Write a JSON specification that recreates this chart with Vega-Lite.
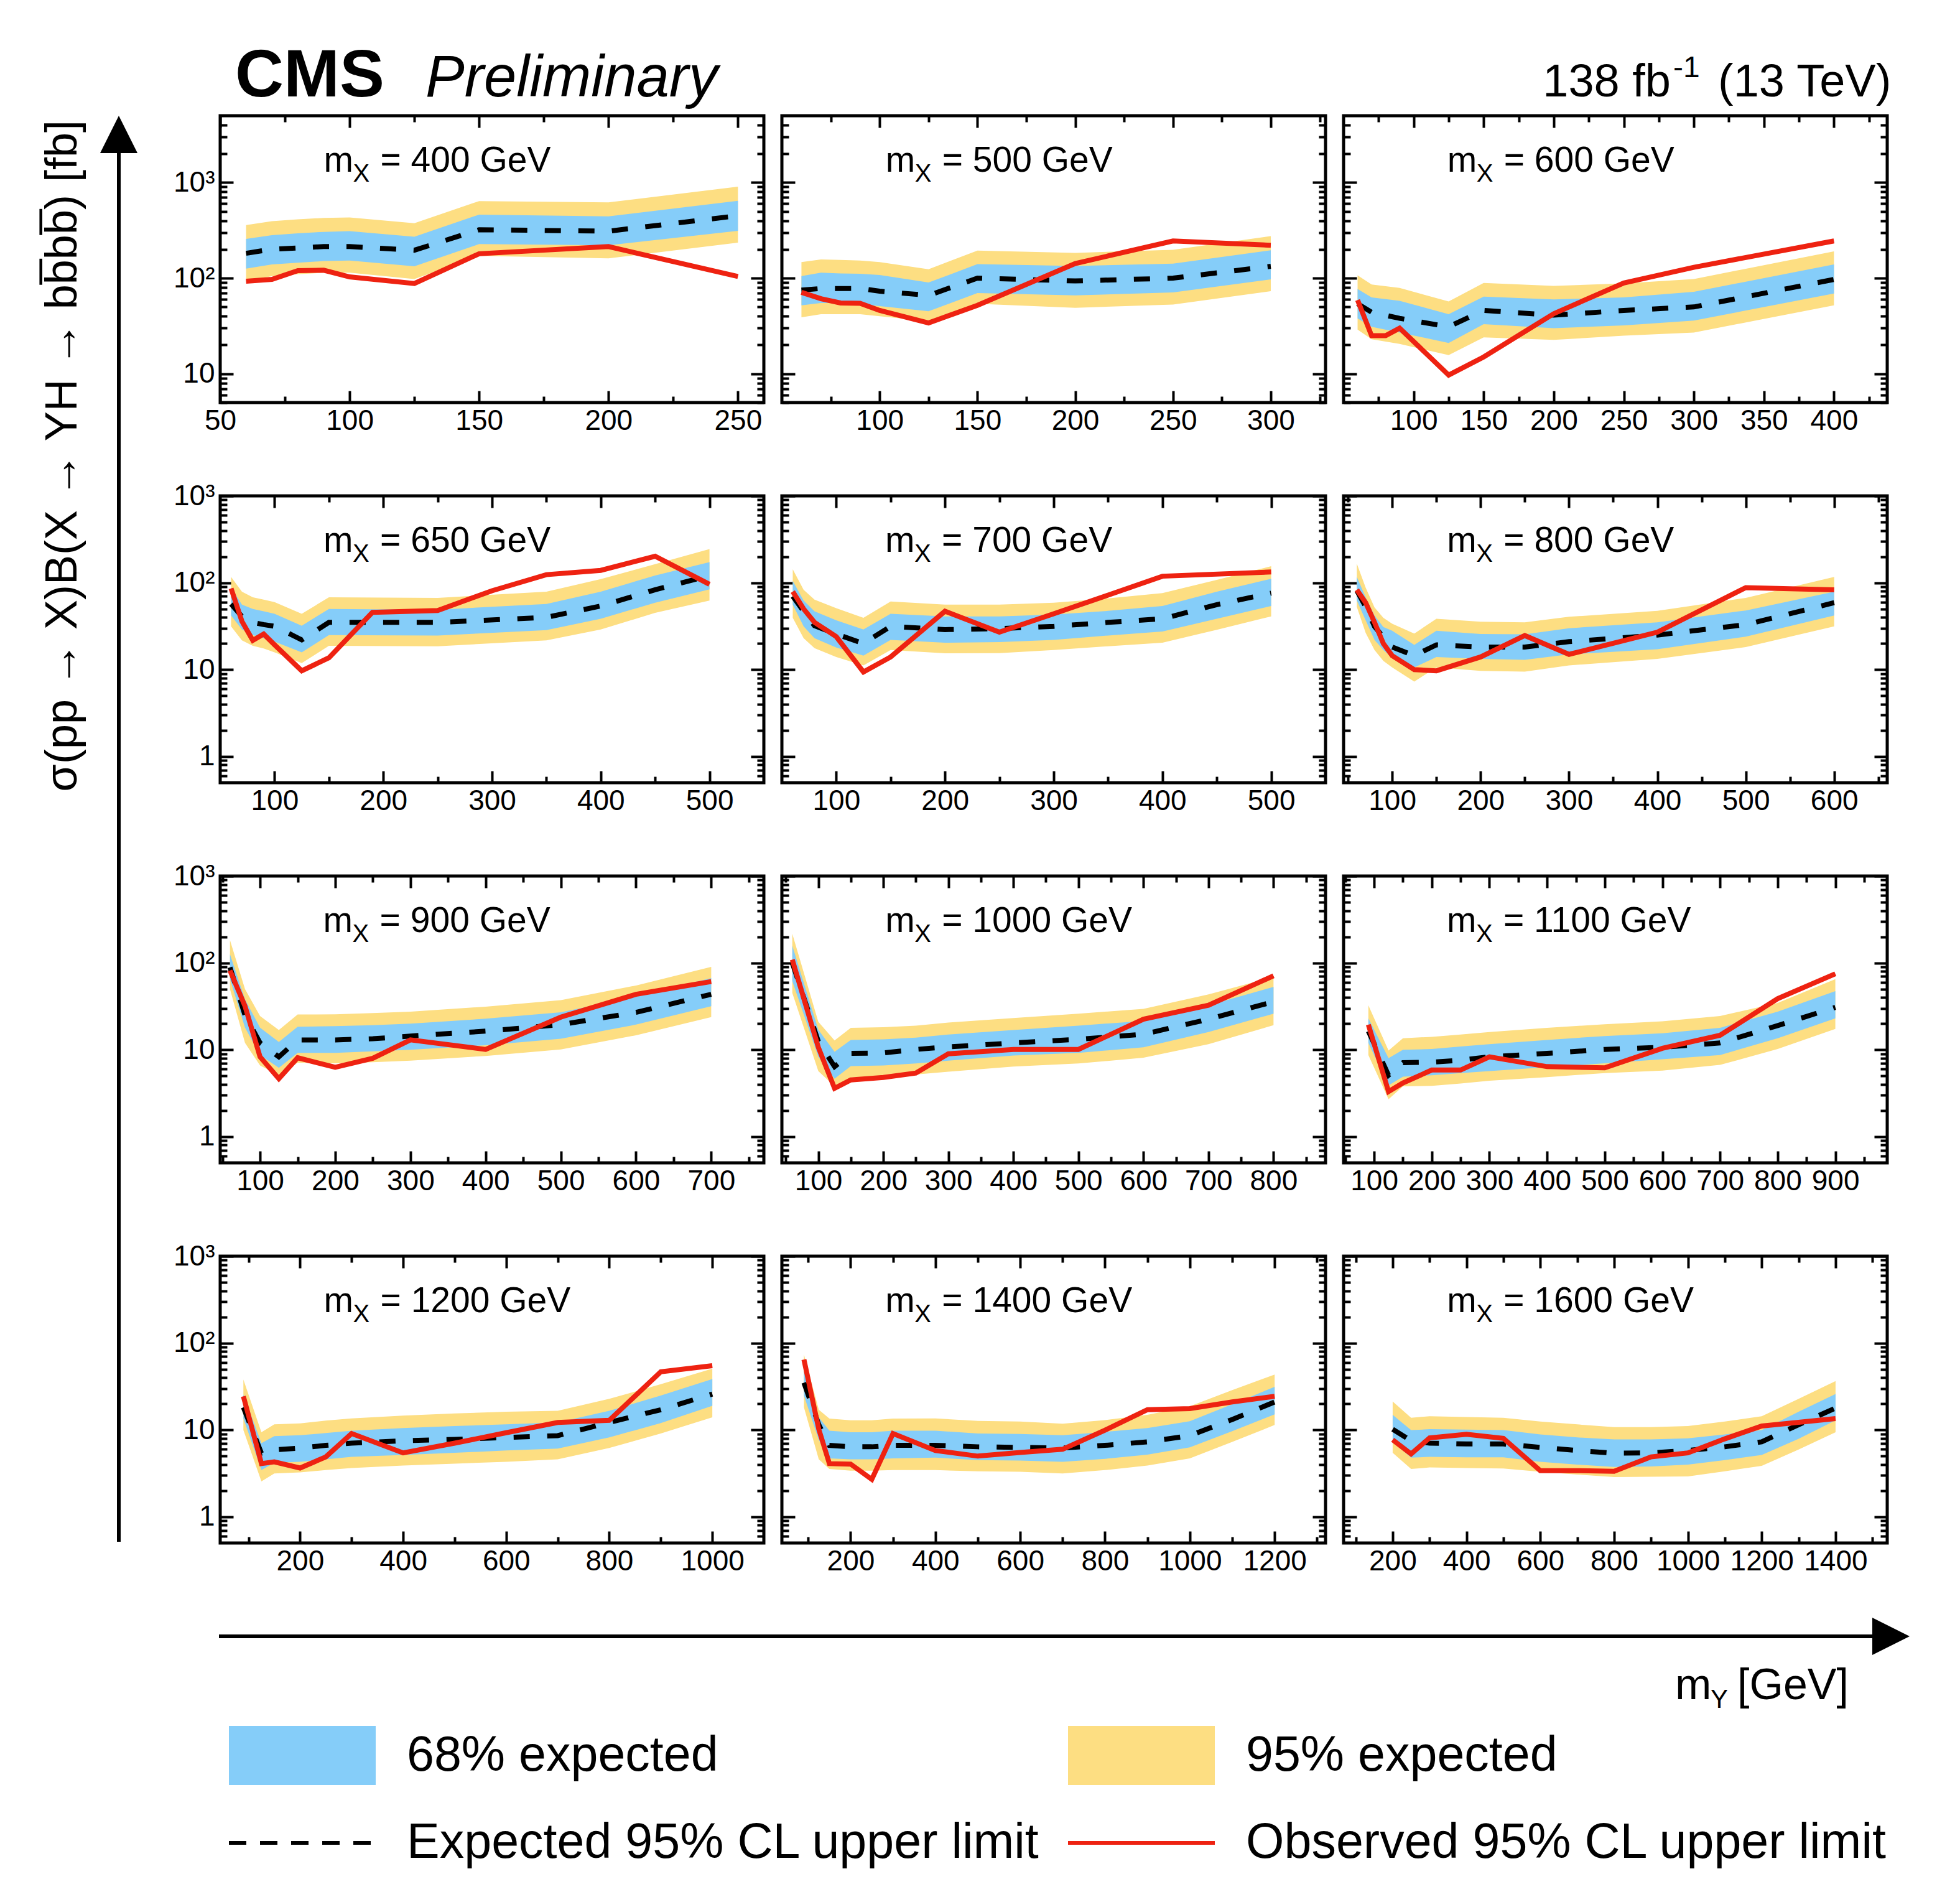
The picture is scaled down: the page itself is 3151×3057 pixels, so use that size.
{
  "$schema": "https://vega.github.io/schema/vega-lite/v6.json",
  "padding": 0,
  "background": "white",
  "config": {
    "view": {"stroke": "black", "strokeWidth": 5},
    "axis": {"domain": false, "grid": false, "tickColor": "black", "tickWidth": 4, "labelFont": "Liberation Sans", "labelFontSize": 46, "labelColor": "black", "labelFlush": false, "labelOverlap": false, "zindex": 1},
    "text": {"font": "Liberation Sans", "color": "black"}
  },
  "datasets": {
    "lim": [
      {"mx":400,"my":60,"exp":182,"m1":126,"p1":257,"m2":92,"p2":359,"obs":93},
      {"mx":400,"my":70,"exp":201,"m1":139,"p1":282,"m2":105,"p2":395,"obs":97},
      {"mx":400,"my":80,"exp":207,"m1":145,"p1":295,"m2":110,"p2":412,"obs":120},
      {"mx":400,"my":90,"exp":214,"m1":151,"p1":305,"m2":114,"p2":427,"obs":121},
      {"mx":400,"my":100,"exp":214,"m1":153,"p1":310,"m2":114,"p2":432,"obs":103},
      {"mx":400,"my":125,"exp":196,"m1":133,"p1":271,"m2":98,"p2":375,"obs":88},
      {"mx":400,"my":150,"exp":321,"m1":227,"p1":462,"m2":171,"p2":640,"obs":180},
      {"mx":400,"my":200,"exp":310,"m1":221,"p1":443,"m2":161,"p2":620,"obs":214},
      {"mx":400,"my":250,"exp":450,"m1":313,"p1":644,"m2":235,"p2":906,"obs":104},

      {"mx":500,"my":60,"exp":75,"m1":52,"p1":105,"m2":39,"p2":147,"obs":71},
      {"mx":500,"my":70,"exp":78,"m1":55,"p1":114,"m2":42,"p2":157,"obs":61},
      {"mx":500,"my":80,"exp":78,"m1":55,"p1":112,"m2":42,"p2":155,"obs":55},
      {"mx":500,"my":90,"exp":78,"m1":54,"p1":111,"m2":42,"p2":153,"obs":54.5},
      {"mx":500,"my":100,"exp":73,"m1":51,"p1":108,"m2":40,"p2":147,"obs":46},
      {"mx":500,"my":125,"exp":66,"m1":45,"p1":90,"m2":35.5,"p2":124,"obs":34},
      {"mx":500,"my":150,"exp":100,"m1":70,"p1":140,"m2":54,"p2":194,"obs":52},
      {"mx":500,"my":200,"exp":93.5,"m1":66,"p1":134,"m2":49,"p2":184,"obs":142},
      {"mx":500,"my":250,"exp":100,"m1":71,"p1":142,"m2":53,"p2":198,"obs":245},
      {"mx":500,"my":300,"exp":133,"m1":97,"p1":196,"m2":73,"p2":275,"obs":221},

      {"mx":600,"my":60,"exp":54,"m1":38,"p1":77,"m2":29,"p2":107,"obs":59},
      {"mx":600,"my":70,"exp":44,"m1":31,"p1":63,"m2":23,"p2":86,"obs":25},
      {"mx":600,"my":80,"obs":25},
      {"mx":600,"my":90,"exp":38,"m1":27,"p1":58,"m2":20.5,"p2":79,"obs":30},
      {"mx":600,"my":125,"exp":31,"m1":21,"p1":42,"m2":15.7,"p2":57,"obs":9.7},
      {"mx":600,"my":150,"exp":46,"m1":33,"p1":64,"m2":24,"p2":89,"obs":15},
      {"mx":600,"my":200,"exp":41,"m1":30,"p1":60,"m2":22.6,"p2":83,"obs":42.5},
      {"mx":600,"my":250,"exp":46,"m1":32,"p1":63,"m2":25,"p2":88,"obs":89},
      {"mx":600,"my":300,"exp":50,"m1":36,"p1":72,"m2":27,"p2":98,"obs":130},
      {"mx":600,"my":400,"exp":97,"m1":69,"p1":139,"m2":52,"p2":191,"obs":245},

      {"mx":650,"my":60,"exp":57,"m1":42,"p1":88,"m2":31.5,"p2":117,"obs":86},
      {"mx":650,"my":70,"exp":41,"m1":29,"p1":56,"m2":21.7,"p2":79,"obs":36},
      {"mx":650,"my":80,"exp":35,"m1":25,"p1":50,"m2":18.8,"p2":68,"obs":21.7},
      {"mx":650,"my":90,"exp":33,"m1":23,"p1":47,"m2":17.5,"p2":64,"obs":25.7},
      {"mx":650,"my":100,"exp":31.6,"m1":21,"p1":44,"m2":15.8,"p2":60,"obs":19.3},
      {"mx":650,"my":125,"exp":22,"m1":15.8,"p1":32,"m2":11.9,"p2":44,"obs":9.7},
      {"mx":650,"my":150,"exp":35,"m1":25,"p1":50,"m2":18.8,"p2":68,"obs":13.7},
      {"mx":650,"my":190,"obs":45.7},
      {"mx":650,"my":250,"exp":35,"m1":24.7,"p1":49,"m2":18.6,"p2":67,"obs":48},
      {"mx":650,"my":300,"obs":81},
      {"mx":650,"my":350,"exp":40,"m1":28.5,"p1":57,"m2":21.7,"p2":79,"obs":124},
      {"mx":650,"my":400,"exp":54,"m1":38.5,"p1":79,"m2":29,"p2":110,"obs":139},
      {"mx":650,"my":450,"exp":83,"m1":59,"p1":121,"m2":45,"p2":164,"obs":202},
      {"mx":650,"my":500,"exp":121,"m1":84,"p1":173,"m2":62.5,"p2":244,"obs":96},

      {"mx":700,"my":60,"exp":70,"m1":56,"p1":105,"m2":39.5,"p2":143,"obs":79},
      {"mx":700,"my":70,"exp":47,"m1":31.5,"p1":62.5,"m2":23,"p2":83,"obs":50},
      {"mx":700,"my":80,"exp":32,"m1":23,"p1":47,"m2":17.7,"p2":64,"obs":35},
      {"mx":700,"my":100,"exp":25.7,"m1":18,"p1":37,"m2":14,"p2":51,"obs":24},
      {"mx":700,"my":125,"exp":20,"m1":14.5,"p1":29,"m2":11.2,"p2":39.5,"obs":9.4},
      {"mx":700,"my":150,"exp":31.5,"m1":22,"p1":44,"m2":16.8,"p2":61,"obs":14},
      {"mx":700,"my":200,"exp":28.9,"m1":20.4,"p1":41,"m2":15.4,"p2":56,"obs":47},
      {"mx":700,"my":250,"exp":29.7,"m1":20.8,"p1":41,"m2":15.5,"p2":56,"obs":27},
      {"mx":700,"my":300,"exp":31.5,"m1":22,"p1":43,"m2":16.8,"p2":59,"obs":44},
      {"mx":700,"my":350,"exp":35,"m1":24.7,"p1":47.5,"m2":18.6,"p2":66,"obs":72},
      {"mx":700,"my":400,"exp":38.5,"m1":27.5,"p1":54,"m2":20.4,"p2":76,"obs":119},
      {"mx":700,"my":450,"exp":56,"m1":38.5,"p1":79,"m2":28.8,"p2":108},
      {"mx":700,"my":500,"exp":76,"m1":54,"p1":111,"m2":41,"p2":155,"obs":133},

      {"mx":800,"my":60,"exp":81,"m1":62.5,"p1":117,"m2":52.6,"p2":166,"obs":83},
      {"mx":800,"my":70,"exp":53,"m1":37,"p1":68,"m2":26.5,"p2":88,"obs":59},
      {"mx":800,"my":80,"exp":31.4,"m1":22,"p1":42,"m2":16.8,"p2":52,"obs":35},
      {"mx":800,"my":90,"exp":23.6,"m1":16.8,"p1":31,"m2":12.6,"p2":39.5,"obs":20},
      {"mx":800,"my":100,"exp":18.2,"m1":13.7,"p1":28,"m2":10.6,"p2":33.7,"obs":14.5},
      {"mx":800,"my":125,"exp":14.5,"m1":10.6,"p1":19.3,"m2":7.3,"p2":26,"obs":10},
      {"mx":800,"my":150,"exp":19.3,"m1":14,"p1":28,"m2":10.6,"p2":38.5,"obs":9.7},
      {"mx":800,"my":200,"exp":18.2,"m1":13.3,"p1":25.7,"m2":9.7,"p2":35.7,"obs":14},
      {"mx":800,"my":250,"exp":18.2,"m1":13,"p1":25.5,"m2":9.5,"p2":35,"obs":24.7},
      {"mx":800,"my":300,"exp":21,"m1":15,"p1":30,"m2":11.2,"p2":40.6,"obs":15},
      {"mx":800,"my":400,"exp":25,"m1":17.2,"p1":35,"m2":13.3,"p2":47.5,"obs":27},
      {"mx":800,"my":500,"exp":33,"m1":24,"p1":48,"m2":18.2,"p2":67,"obs":88},
      {"mx":800,"my":600,"exp":59,"m1":42,"p1":79,"m2":31.5,"p2":117,"obs":83},

      {"mx":900,"my":60,"exp":89,"m1":65,"p1":126,"m2":50,"p2":183,"obs":82},
      {"mx":900,"my":80,"exp":25,"m1":18,"p1":38,"m2":12,"p2":50,"obs":31.8},
      {"mx":900,"my":100,"exp":12,"m1":8.7,"p1":18,"m2":6.6,"p2":24.5,"obs":8.3},
      {"mx":900,"my":125,"exp":8.3,"m1":6.2,"p1":12.3,"m2":5.1,"p2":16.9,"obs":4.65},
      {"mx":900,"my":150,"exp":13,"m1":9.2,"p1":18.4,"m2":7.1,"p2":25.5,"obs":8.1},
      {"mx":900,"my":200,"exp":13,"m1":9.2,"p1":18.7,"m2":7.0,"p2":25.6,"obs":6.3},
      {"mx":900,"my":250,"exp":13.4,"m1":9.6,"p1":19.2,"m2":7.2,"p2":26.5,"obs":8.0},
      {"mx":900,"my":300,"exp":14.4,"m1":10,"p1":20,"m2":7.5,"p2":27.5,"obs":13},
      {"mx":900,"my":400,"exp":16.4,"m1":11.3,"p1":22.8,"m2":8.5,"p2":31.4,"obs":10.1},
      {"mx":900,"my":500,"exp":19.5,"m1":13.4,"p1":27,"m2":10.1,"p2":37.3,"obs":23.8},
      {"mx":900,"my":600,"exp":27,"m1":19.5,"p1":41,"m2":14.7,"p2":55,"obs":43.5},
      {"mx":900,"my":700,"exp":43.5,"m1":31.8,"p1":67,"m2":23.8,"p2":90,"obs":61},

      {"mx":1000,"my":60,"exp":100,"m1":62,"p1":158,"m2":45,"p2":217,"obs":109},
      {"mx":1000,"my":100,"exp":12.5,"m1":8.3,"p1":17,"m2":5.7,"p2":21,"obs":10.7},
      {"mx":1000,"my":125,"exp":6.4,"m1":4.65,"p1":9.5,"m2":3.8,"p2":12.8,"obs":3.6},
      {"mx":1000,"my":150,"exp":9.1,"m1":6.5,"p1":13,"m2":4.8,"p2":17.9,"obs":4.5},
      {"mx":1000,"my":200,"exp":9.2,"m1":6.6,"p1":13.2,"m2":4.9,"p2":18.2,"obs":4.8},
      {"mx":1000,"my":250,"exp":10.1,"m1":6.95,"p1":13.8,"m2":5.2,"p2":19,"obs":5.4},
      {"mx":1000,"my":300,"exp":10.8,"m1":7.5,"p1":15,"m2":5.6,"p2":20.6,"obs":9.0},
      {"mx":1000,"my":400,"exp":12,"m1":8.6,"p1":16.9,"m2":6.4,"p2":23.2,"obs":10.1},
      {"mx":1000,"my":500,"exp":13.2,"m1":9.2,"p1":19,"m2":6.95,"p2":26,"obs":10.1},
      {"mx":1000,"my":600,"exp":15.1,"m1":10.7,"p1":21.5,"m2":8.1,"p2":29.6,"obs":22.5},
      {"mx":1000,"my":700,"exp":22.5,"m1":16,"p1":32.6,"m2":11.6,"p2":43.5,"obs":32.6},
      {"mx":1000,"my":800,"exp":35.7,"m1":26,"p1":53,"m2":19.2,"p2":69,"obs":71},

      {"mx":1100,"my":90,"exp":16.4,"m1":12,"p1":23,"m2":8.7,"p2":32.6,"obs":19.5},
      {"mx":1100,"my":125,"exp":5.1,"m1":3.9,"p1":8.0,"m2":2.7,"p2":9.8,"obs":3.3},
      {"mx":1100,"my":150,"exp":7.1,"m1":4.9,"p1":10,"m2":3.8,"p2":13.6,"obs":4.15},
      {"mx":1100,"my":200,"exp":7.2,"m1":5.1,"p1":10.2,"m2":3.85,"p2":14.1,"obs":5.85},
      {"mx":1100,"my":250,"exp":7.6,"m1":5.4,"p1":10.9,"m2":4.1,"p2":15,"obs":5.85},
      {"mx":1100,"my":300,"exp":8.3,"m1":5.7,"p1":11.6,"m2":4.4,"p2":16,"obs":8.3},
      {"mx":1100,"my":400,"exp":9.1,"m1":6.3,"p1":13,"m2":4.85,"p2":17.9,"obs":6.4},
      {"mx":1100,"my":500,"exp":10.1,"m1":7.0,"p1":14.4,"m2":5.4,"p2":19.7,"obs":6.2},
      {"mx":1100,"my":600,"exp":10.7,"m1":7.8,"p1":15.5,"m2":5.75,"p2":21.3,"obs":10.4},
      {"mx":1100,"my":700,"exp":12,"m1":8.7,"p1":17.9,"m2":6.7,"p2":24.5,"obs":14.7},
      {"mx":1100,"my":800,"exp":19,"m1":13.6,"p1":27.5,"m2":10.2,"p2":34.6,"obs":38.8},
      {"mx":1100,"my":900,"exp":30.8,"m1":23,"p1":47.4,"m2":17.4,"p2":65,"obs":75},

      {"mx":1200,"my":90,"exp":18.2,"m1":13.6,"p1":25.6,"m2":9.95,"p2":38,"obs":24.4},
      {"mx":1200,"my":125,"exp":5.4,"m1":3.45,"p1":7.05,"m2":2.56,"p2":9.4,"obs":4.1},
      {"mx":1200,"my":150,"exp":5.9,"m1":4.2,"p1":8.5,"m2":3.16,"p2":11.6,"obs":4.3},
      {"mx":1200,"my":200,"exp":6.2,"m1":4.3,"p1":8.7,"m2":3.25,"p2":11.9,"obs":3.65},
      {"mx":1200,"my":250,"exp":6.65,"m1":4.6,"p1":9.2,"m2":3.45,"p2":12.8,"obs":4.9},
      {"mx":1200,"my":300,"exp":7.05,"m1":4.9,"p1":9.8,"m2":3.65,"p2":13.6,"obs":9.1},
      {"mx":1200,"my":400,"exp":7.5,"m1":5.15,"p1":10.5,"m2":3.9,"p2":14.6,"obs":5.45},
      {"mx":1200,"my":500,"exp":7.8,"m1":5.45,"p1":11.1,"m2":4.1,"p2":15.5,"obs":7.05},
      {"mx":1200,"my":600,"exp":8.2,"m1":5.8,"p1":11.6,"m2":4.3,"p2":16.2,"obs":9.3},
      {"mx":1200,"my":700,"exp":8.6,"m1":6.1,"p1":12.2,"m2":4.6,"p2":16.6,"obs":12.2},
      {"mx":1200,"my":800,"exp":12.2,"m1":8.2,"p1":16.6,"m2":6.2,"p2":22.8,"obs":12.9},
      {"mx":1200,"my":900,"exp":17.1,"m1":12,"p1":24.9,"m2":9.1,"p2":33.6,"obs":46.7},
      {"mx":1200,"my":1000,"exp":25.9,"m1":19,"p1":38.6,"m2":14,"p2":50.8,"obs":55},

      {"mx":1400,"my":90,"exp":35,"m1":24.9,"p1":48,"m2":18.2,"p2":74,"obs":64.7},
      {"mx":1400,"my":125,"exp":11.5,"m1":7.7,"p1":14,"m2":4.6,"p2":17.1,"obs":10.2},
      {"mx":1400,"my":150,"exp":6.65,"m1":4.7,"p1":9.8,"m2":3.55,"p2":13.5,"obs":4.1},
      {"mx":1400,"my":200,"exp":6.4,"m1":4.6,"p1":9.4,"m2":3.4,"p2":12.9,"obs":4.05},
      {"mx":1400,"my":250,"exp":6.4,"m1":4.6,"p1":9.4,"m2":3.4,"p2":12.9,"obs":2.7},
      {"mx":1400,"my":300,"exp":6.65,"m1":4.7,"p1":9.8,"m2":3.45,"p2":13.5,"obs":9.1},
      {"mx":1400,"my":400,"exp":6.65,"m1":4.8,"p1":9.8,"m2":3.45,"p2":13.6,"obs":5.8},
      {"mx":1400,"my":500,"exp":6.4,"m1":4.5,"p1":9.1,"m2":3.35,"p2":12.7,"obs":5.0},
      {"mx":1400,"my":600,"exp":6.3,"m1":4.45,"p1":9.0,"m2":3.3,"p2":12.5,"obs":5.5},
      {"mx":1400,"my":700,"exp":6.2,"m1":4.3,"p1":8.7,"m2":3.16,"p2":11.8,"obs":6.0},
      {"mx":1400,"my":800,"exp":6.65,"m1":4.65,"p1":9.5,"m2":3.45,"p2":13,"obs":9.96},
      {"mx":1400,"my":900,"exp":7.3,"m1":5.2,"p1":10.5,"m2":3.9,"p2":14.9,"obs":17.1},
      {"mx":1400,"my":1000,"exp":8.6,"m1":6.3,"p1":12.6,"m2":4.7,"p2":18.7,"obs":17.6},
      {"mx":1400,"my":1100,"exp":13.2,"m1":9.7,"p1":19.8,"m2":7.3,"p2":28.7,"obs":21},
      {"mx":1400,"my":1200,"exp":21,"m1":15.1,"p1":31.3,"m2":11.4,"p2":43.4,"obs":24.4},

      {"mx":1600,"my":200,"exp":10.2,"m1":7.3,"p1":14.9,"m2":5.45,"p2":21.3,"obs":7.7},
      {"mx":1600,"my":250,"exp":7.5,"m1":4.8,"p1":9.95,"m2":3.55,"p2":13.8,"obs":5.3},
      {"mx":1600,"my":300,"exp":7.05,"m1":4.9,"p1":10.2,"m2":3.7,"p2":14.4,"obs":8.1},
      {"mx":1600,"my":400,"exp":6.9,"m1":4.85,"p1":10.1,"m2":3.65,"p2":14.1,"obs":8.9},
      {"mx":1600,"my":500,"exp":6.9,"m1":4.85,"p1":9.95,"m2":3.6,"p2":13.8,"obs":8.0},
      {"mx":1600,"my":600,"exp":6.3,"m1":4.3,"p1":8.9,"m2":3.3,"p2":12.5,"obs":3.4},
      {"mx":1600,"my":700,"exp":5.8,"m1":4.0,"p1":8.2,"m2":3.07,"p2":11.6,"obs":3.4},
      {"mx":1600,"my":800,"exp":5.4,"m1":3.76,"p1":7.8,"m2":2.87,"p2":10.8,"obs":3.35},
      {"mx":1600,"my":900,"exp":5.45,"m1":3.8,"p1":7.8,"m2":2.9,"p2":10.8,"obs":4.9},
      {"mx":1600,"my":1000,"exp":5.8,"m1":4.0,"p1":8.0,"m2":2.92,"p2":11.1,"obs":5.45},
      {"mx":1600,"my":1100,"exp":6.4,"m1":4.5,"p1":8.9,"m2":3.35,"p2":12.5,"obs":7.9},
      {"mx":1600,"my":1200,"exp":7.3,"m1":5.15,"p1":9.95,"m2":3.87,"p2":14.4,"obs":11.1},
      {"mx":1600,"my":1300,"exp":11.5,"m1":7.9,"p1":16.2,"m2":5.95,"p2":22.8},
      {"mx":1600,"my":1400,"exp":17.9,"m1":12.9,"p1":25.9,"m2":9.4,"p2":36.5,"obs":13.5}
    ]
  },
  "spacing": 0,
  "bounds": "full",
  "vconcat": [
    {
      "width": 3151, "height": 181,
      "view": {"stroke": null},
      "data": {"values": [{}]},
      "layer": [
        {"mark": {"type": "text", "text": "CMS", "fontSize": 108, "fontWeight": "bold", "align": "left", "baseline": "alphabetic"},
         "encoding": {"x": {"datum": 378, "scale": {"domain": [0, 3151], "nice": false, "zero": false}, "axis": null},
                      "y": {"datum": 155, "scale": {"domain": [181, 0], "nice": false, "zero": false}, "axis": null}}},
        {"mark": {"type": "text", "text": "Preliminary", "fontSize": 94, "fontStyle": "italic", "align": "left", "baseline": "alphabetic"},
         "encoding": {"x": {"datum": 684, "axis": null}, "y": {"datum": 155, "axis": null}}},
        {"mark": {"type": "text", "text": "138 fb", "fontSize": 74, "align": "right", "baseline": "alphabetic"},
         "encoding": {"x": {"datum": 2686, "axis": null}, "y": {"datum": 155, "axis": null}}},
        {"mark": {"type": "text", "text": "-1", "fontSize": 48, "align": "left", "baseline": "alphabetic"},
         "encoding": {"x": {"datum": 2690, "axis": null}, "y": {"datum": 124, "axis": null}}},
        {"mark": {"type": "text", "text": "(13 TeV)", "fontSize": 74, "align": "left", "baseline": "alphabetic"},
         "encoding": {"x": {"datum": 2762, "axis": null}, "y": {"datum": 155, "axis": null}}}
      ]
    },
    {
      "spacing": 0,
      "bounds": "flush",
      "hconcat": [
        {
          "width": 354, "height": 2374,
          "view": {"stroke": null},
          "data": {"values": [{}]},
          "layer": [
            {"mark": {"type": "rule", "strokeWidth": 6, "color": "black"},
             "encoding": {"x": {"datum": 191, "scale": {"domain": [0, 354], "nice": false, "zero": false}, "axis": null},
                          "y": {"datum": 2476, "scale": {"domain": [2558, 184], "nice": false, "zero": false}, "axis": null},
                          "y2": {"datum": 225}}},
            {"mark": {"type": "point", "shape": "M0,-1L1,1L-1,1Z", "size": 3600, "filled": true, "color": "black", "opacity": 1, "strokeWidth": 0},
             "encoding": {"x": {"datum": 191, "axis": null}, "y": {"datum": 214, "axis": null}}},
            {"mark": {"type": "text", "text": "\u03c3(pp \u2192 X)B(X \u2192 YH \u2192 bb\u0305bb\u0305) [fb]", "angle": 270, "fontSize": 72, "align": "right", "baseline": "middle"},
             "encoding": {"x": {"datum": 101, "axis": null}, "y": {"datum": 191, "axis": null}}}
          ]
        },
        {
          "columns": 3,
          "spacing": {"row": 150, "column": 29},
          "bounds": "flush",
          "concat": [
            {"width": 874, "height": 461, "data": {"name": "lim"}, "transform": [{"filter": "datum.mx == 400"}],
             "resolve": {"axis": {"x": "independent", "y": "independent"}},
             "layer": [
               {"transform": [{"filter": "isValid(datum.p2)"}], "mark": {"type": "area", "color": "#FDDE82"},
                "encoding": {"x": {"field": "my", "type": "quantitative", "scale": {"domain": [50, 260], "nice": false, "zero": false}, "axis": {"orient": "bottom", "values": [50,100,150,200,250], "format": "d", "tickSize": -19, "labelPadding": 26, "title": null}},
                             "y": {"field": "m2", "type": "quantitative", "scale": {"type": "log", "domain": [5, 5000], "nice": false}, "axis": {"orient": "left", "values": [10,100,1000], "tickSize": -21, "labelPadding": 30, "labelExpr": "datum.value >= 1000 ? '10\u00b3' : datum.value >= 100 ? '10\u00b2' : datum.value >= 10 ? '10' : '1'", "title": null}},
                             "y2": {"field": "p2"}}},
               {"transform": [{"filter": "isValid(datum.p1)"}], "mark": {"type": "area", "color": "#85CDF9"},
                "encoding": {"x": {"field": "my", "type": "quantitative", "axis": {"orient": "bottom", "values": [75,125,175,225], "tickSize": -10, "labels": false, "title": null}},
                             "y": {"field": "m1", "type": "quantitative", "axis": {"orient": "left", "values": [5,6,7,8,9,20,30,40,50,60,70,80,90,200,300,400,500,600,700,800,900,2000,3000,4000], "tickSize": -11, "labels": false, "title": null}},
                             "y2": {"field": "p1"}}},
               {"transform": [{"filter": "isValid(datum.exp)"}], "mark": {"type": "line", "color": "black", "strokeWidth": 8, "strokeDash": [26, 28]},
                "encoding": {"x": {"field": "my", "type": "quantitative", "axis": {"orient": "top", "values": [50,100,150,200,250], "tickSize": -19, "labels": false, "title": null}},
                             "y": {"field": "exp", "type": "quantitative", "axis": {"orient": "right", "values": [10,100,1000], "tickSize": -21, "labels": false, "title": null}}}},
               {"transform": [{"filter": "isValid(datum.obs)"}], "mark": {"type": "line", "color": "#EE2211", "strokeWidth": 8},
                "encoding": {"x": {"field": "my", "type": "quantitative", "axis": {"orient": "top", "values": [75,125,175,225], "tickSize": -10, "labels": false, "title": null}},
                             "y": {"field": "obs", "type": "quantitative", "axis": {"orient": "right", "values": [5,6,7,8,9,20,30,40,50,60,70,80,90,200,300,400,500,600,700,800,900,2000,3000,4000], "tickSize": -11, "labels": false, "title": null}}}},
               {"data": {"values": [{}]}, "mark": {"type": "text", "text": "m", "fontSize": 57, "align": "left", "baseline": "alphabetic"},
                "encoding": {"x": {"datum": 90, "axis": null}, "y": {"datum": 1300, "axis": null}}},
               {"data": {"values": [{}]}, "mark": {"type": "text", "text": "X", "fontSize": 40, "align": "left", "baseline": "alphabetic", "dx": 47, "dy": 16},
                "encoding": {"x": {"datum": 90, "axis": null}, "y": {"datum": 1300, "axis": null}}},
               {"data": {"values": [{}]}, "mark": {"type": "text", "text": "= 400 GeV", "fontSize": 57, "align": "left", "baseline": "alphabetic", "dx": 91},
                "encoding": {"x": {"datum": 90, "axis": null}, "y": {"datum": 1300, "axis": null}}}
             ]},
            {"width": 874, "height": 461, "data": {"name": "lim"}, "transform": [{"filter": "datum.mx == 500"}],
             "resolve": {"axis": {"x": "independent", "y": "independent"}},
             "layer": [
               {"transform": [{"filter": "isValid(datum.p2)"}], "mark": {"type": "area", "color": "#FDDE82"},
                "encoding": {"x": {"field": "my", "type": "quantitative", "scale": {"domain": [50, 328], "nice": false, "zero": false}, "axis": {"orient": "bottom", "values": [100,150,200,250,300], "format": "d", "tickSize": -19, "labelPadding": 26, "title": null}},
                             "y": {"field": "m2", "type": "quantitative", "scale": {"type": "log", "domain": [5, 5000], "nice": false}, "axis": {"orient": "left", "values": [10,100,1000], "tickSize": -21, "labels": false, "title": null}},
                             "y2": {"field": "p2"}}},
               {"transform": [{"filter": "isValid(datum.p1)"}], "mark": {"type": "area", "color": "#85CDF9"},
                "encoding": {"x": {"field": "my", "type": "quantitative", "axis": {"orient": "bottom", "values": [75,125,175,225,275,325], "tickSize": -10, "labels": false, "title": null}},
                             "y": {"field": "m1", "type": "quantitative", "axis": {"orient": "left", "values": [5,6,7,8,9,20,30,40,50,60,70,80,90,200,300,400,500,600,700,800,900,2000,3000,4000], "tickSize": -11, "labels": false, "title": null}},
                             "y2": {"field": "p1"}}},
               {"transform": [{"filter": "isValid(datum.exp)"}], "mark": {"type": "line", "color": "black", "strokeWidth": 8, "strokeDash": [26, 28]},
                "encoding": {"x": {"field": "my", "type": "quantitative", "axis": {"orient": "top", "values": [100,150,200,250,300], "tickSize": -19, "labels": false, "title": null}},
                             "y": {"field": "exp", "type": "quantitative", "axis": {"orient": "right", "values": [10,100,1000], "tickSize": -21, "labels": false, "title": null}}}},
               {"transform": [{"filter": "isValid(datum.obs)"}], "mark": {"type": "line", "color": "#EE2211", "strokeWidth": 8},
                "encoding": {"x": {"field": "my", "type": "quantitative", "axis": {"orient": "top", "values": [75,125,175,225,275,325], "tickSize": -10, "labels": false, "title": null}},
                             "y": {"field": "obs", "type": "quantitative", "axis": {"orient": "right", "values": [5,6,7,8,9,20,30,40,50,60,70,80,90,200,300,400,500,600,700,800,900,2000,3000,4000], "tickSize": -11, "labels": false, "title": null}}}},
               {"data": {"values": [{}]}, "mark": {"type": "text", "text": "m", "fontSize": 57, "align": "left", "baseline": "alphabetic"},
                "encoding": {"x": {"datum": 103, "axis": null}, "y": {"datum": 1300, "axis": null}}},
               {"data": {"values": [{}]}, "mark": {"type": "text", "text": "X", "fontSize": 40, "align": "left", "baseline": "alphabetic", "dx": 47, "dy": 16},
                "encoding": {"x": {"datum": 103, "axis": null}, "y": {"datum": 1300, "axis": null}}},
               {"data": {"values": [{}]}, "mark": {"type": "text", "text": "= 500 GeV", "fontSize": 57, "align": "left", "baseline": "alphabetic", "dx": 91},
                "encoding": {"x": {"datum": 103, "axis": null}, "y": {"datum": 1300, "axis": null}}}
             ]},
            {"width": 874, "height": 461, "data": {"name": "lim"}, "transform": [{"filter": "datum.mx == 600"}],
             "resolve": {"axis": {"x": "independent", "y": "independent"}},
             "layer": [
               {"transform": [{"filter": "isValid(datum.p2)"}], "mark": {"type": "area", "color": "#FDDE82"},
                "encoding": {"x": {"field": "my", "type": "quantitative", "scale": {"domain": [50, 438], "nice": false, "zero": false}, "axis": {"orient": "bottom", "values": [100,150,200,250,300,350,400], "format": "d", "tickSize": -19, "labelPadding": 26, "title": null}},
                             "y": {"field": "m2", "type": "quantitative", "scale": {"type": "log", "domain": [5, 5000], "nice": false}, "axis": {"orient": "left", "values": [10,100,1000], "tickSize": -21, "labels": false, "title": null}},
                             "y2": {"field": "p2"}}},
               {"transform": [{"filter": "isValid(datum.p1)"}], "mark": {"type": "area", "color": "#85CDF9"},
                "encoding": {"x": {"field": "my", "type": "quantitative", "axis": {"orient": "bottom", "values": [75,125,175,225,275,325,375,425], "tickSize": -10, "labels": false, "title": null}},
                             "y": {"field": "m1", "type": "quantitative", "axis": {"orient": "left", "values": [5,6,7,8,9,20,30,40,50,60,70,80,90,200,300,400,500,600,700,800,900,2000,3000,4000], "tickSize": -11, "labels": false, "title": null}},
                             "y2": {"field": "p1"}}},
               {"transform": [{"filter": "isValid(datum.exp)"}], "mark": {"type": "line", "color": "black", "strokeWidth": 8, "strokeDash": [26, 28]},
                "encoding": {"x": {"field": "my", "type": "quantitative", "axis": {"orient": "top", "values": [100,150,200,250,300,350,400], "tickSize": -19, "labels": false, "title": null}},
                             "y": {"field": "exp", "type": "quantitative", "axis": {"orient": "right", "values": [10,100,1000], "tickSize": -21, "labels": false, "title": null}}}},
               {"transform": [{"filter": "isValid(datum.obs)"}], "mark": {"type": "line", "color": "#EE2211", "strokeWidth": 8},
                "encoding": {"x": {"field": "my", "type": "quantitative", "axis": {"orient": "top", "values": [75,125,175,225,275,325,375,425], "tickSize": -10, "labels": false, "title": null}},
                             "y": {"field": "obs", "type": "quantitative", "axis": {"orient": "right", "values": [5,6,7,8,9,20,30,40,50,60,70,80,90,200,300,400,500,600,700,800,900,2000,3000,4000], "tickSize": -11, "labels": false, "title": null}}}},
               {"data": {"values": [{}]}, "mark": {"type": "text", "text": "m", "fontSize": 57, "align": "left", "baseline": "alphabetic"},
                "encoding": {"x": {"datum": 124, "axis": null}, "y": {"datum": 1300, "axis": null}}},
               {"data": {"values": [{}]}, "mark": {"type": "text", "text": "X", "fontSize": 40, "align": "left", "baseline": "alphabetic", "dx": 47, "dy": 16},
                "encoding": {"x": {"datum": 124, "axis": null}, "y": {"datum": 1300, "axis": null}}},
               {"data": {"values": [{}]}, "mark": {"type": "text", "text": "= 600 GeV", "fontSize": 57, "align": "left", "baseline": "alphabetic", "dx": 91},
                "encoding": {"x": {"datum": 124, "axis": null}, "y": {"datum": 1300, "axis": null}}}
             ]},
            {"width": 874, "height": 461, "data": {"name": "lim"}, "transform": [{"filter": "datum.mx == 650"}],
             "resolve": {"axis": {"x": "independent", "y": "independent"}},
             "layer": [
               {"transform": [{"filter": "isValid(datum.p2)"}], "mark": {"type": "area", "color": "#FDDE82"},
                "encoding": {"x": {"field": "my", "type": "quantitative", "scale": {"domain": [50, 550], "nice": false, "zero": false}, "axis": {"orient": "bottom", "values": [100,200,300,400,500], "format": "d", "tickSize": -19, "labelPadding": 26, "title": null}},
                             "y": {"field": "m2", "type": "quantitative", "scale": {"type": "log", "domain": [0.5, 1000], "nice": false}, "axis": {"orient": "left", "values": [1,10,100,1000], "tickSize": -21, "labelPadding": 30, "labelExpr": "datum.value >= 1000 ? '10\u00b3' : datum.value >= 100 ? '10\u00b2' : datum.value >= 10 ? '10' : '1'", "title": null}},
                             "y2": {"field": "p2"}}},
               {"transform": [{"filter": "isValid(datum.p1)"}], "mark": {"type": "area", "color": "#85CDF9"},
                "encoding": {"x": {"field": "my", "type": "quantitative", "axis": {"orient": "bottom", "values": [150,250,350,450], "tickSize": -10, "labels": false, "title": null}},
                             "y": {"field": "m1", "type": "quantitative", "axis": {"orient": "left", "values": [0.6,0.7,0.8,0.9,2,3,4,5,6,7,8,9,20,30,40,50,60,70,80,90,200,300,400,500,600,700,800,900], "tickSize": -11, "labels": false, "title": null}},
                             "y2": {"field": "p1"}}},
               {"transform": [{"filter": "isValid(datum.exp)"}], "mark": {"type": "line", "color": "black", "strokeWidth": 8, "strokeDash": [26, 28]},
                "encoding": {"x": {"field": "my", "type": "quantitative", "axis": {"orient": "top", "values": [100,200,300,400,500], "tickSize": -19, "labels": false, "title": null}},
                             "y": {"field": "exp", "type": "quantitative", "axis": {"orient": "right", "values": [1,10,100,1000], "tickSize": -21, "labels": false, "title": null}}}},
               {"transform": [{"filter": "isValid(datum.obs)"}], "mark": {"type": "line", "color": "#EE2211", "strokeWidth": 8},
                "encoding": {"x": {"field": "my", "type": "quantitative", "axis": {"orient": "top", "values": [150,250,350,450], "tickSize": -10, "labels": false, "title": null}},
                             "y": {"field": "obs", "type": "quantitative", "axis": {"orient": "right", "values": [0.6,0.7,0.8,0.9,2,3,4,5,6,7,8,9,20,30,40,50,60,70,80,90,200,300,400,500,600,700,800,900], "tickSize": -11, "labels": false, "title": null}}}},
               {"data": {"values": [{}]}, "mark": {"type": "text", "text": "m", "fontSize": 57, "align": "left", "baseline": "alphabetic"},
                "encoding": {"x": {"datum": 145, "axis": null}, "y": {"datum": 227, "axis": null}}},
               {"data": {"values": [{}]}, "mark": {"type": "text", "text": "X", "fontSize": 40, "align": "left", "baseline": "alphabetic", "dx": 47, "dy": 16},
                "encoding": {"x": {"datum": 145, "axis": null}, "y": {"datum": 227, "axis": null}}},
               {"data": {"values": [{}]}, "mark": {"type": "text", "text": "= 650 GeV", "fontSize": 57, "align": "left", "baseline": "alphabetic", "dx": 91},
                "encoding": {"x": {"datum": 145, "axis": null}, "y": {"datum": 227, "axis": null}}}
             ]},
            {"width": 874, "height": 461, "data": {"name": "lim"}, "transform": [{"filter": "datum.mx == 700"}],
             "resolve": {"axis": {"x": "independent", "y": "independent"}},
             "layer": [
               {"transform": [{"filter": "isValid(datum.p2)"}], "mark": {"type": "area", "color": "#FDDE82"},
                "encoding": {"x": {"field": "my", "type": "quantitative", "scale": {"domain": [50, 550], "nice": false, "zero": false}, "axis": {"orient": "bottom", "values": [100,200,300,400,500], "format": "d", "tickSize": -19, "labelPadding": 26, "title": null}},
                             "y": {"field": "m2", "type": "quantitative", "scale": {"type": "log", "domain": [0.5, 1000], "nice": false}, "axis": {"orient": "left", "values": [1,10,100,1000], "tickSize": -21, "labels": false, "title": null}},
                             "y2": {"field": "p2"}}},
               {"transform": [{"filter": "isValid(datum.p1)"}], "mark": {"type": "area", "color": "#85CDF9"},
                "encoding": {"x": {"field": "my", "type": "quantitative", "axis": {"orient": "bottom", "values": [150,250,350,450], "tickSize": -10, "labels": false, "title": null}},
                             "y": {"field": "m1", "type": "quantitative", "axis": {"orient": "left", "values": [0.6,0.7,0.8,0.9,2,3,4,5,6,7,8,9,20,30,40,50,60,70,80,90,200,300,400,500,600,700,800,900], "tickSize": -11, "labels": false, "title": null}},
                             "y2": {"field": "p1"}}},
               {"transform": [{"filter": "isValid(datum.exp)"}], "mark": {"type": "line", "color": "black", "strokeWidth": 8, "strokeDash": [26, 28]},
                "encoding": {"x": {"field": "my", "type": "quantitative", "axis": {"orient": "top", "values": [100,200,300,400,500], "tickSize": -19, "labels": false, "title": null}},
                             "y": {"field": "exp", "type": "quantitative", "axis": {"orient": "right", "values": [1,10,100,1000], "tickSize": -21, "labels": false, "title": null}}}},
               {"transform": [{"filter": "isValid(datum.obs)"}], "mark": {"type": "line", "color": "#EE2211", "strokeWidth": 8},
                "encoding": {"x": {"field": "my", "type": "quantitative", "axis": {"orient": "top", "values": [150,250,350,450], "tickSize": -10, "labels": false, "title": null}},
                             "y": {"field": "obs", "type": "quantitative", "axis": {"orient": "right", "values": [0.6,0.7,0.8,0.9,2,3,4,5,6,7,8,9,20,30,40,50,60,70,80,90,200,300,400,500,600,700,800,900], "tickSize": -11, "labels": false, "title": null}}}},
               {"data": {"values": [{}]}, "mark": {"type": "text", "text": "m", "fontSize": 57, "align": "left", "baseline": "alphabetic"},
                "encoding": {"x": {"datum": 145, "axis": null}, "y": {"datum": 227, "axis": null}}},
               {"data": {"values": [{}]}, "mark": {"type": "text", "text": "X", "fontSize": 40, "align": "left", "baseline": "alphabetic", "dx": 47, "dy": 16},
                "encoding": {"x": {"datum": 145, "axis": null}, "y": {"datum": 227, "axis": null}}},
               {"data": {"values": [{}]}, "mark": {"type": "text", "text": "= 700 GeV", "fontSize": 57, "align": "left", "baseline": "alphabetic", "dx": 91},
                "encoding": {"x": {"datum": 145, "axis": null}, "y": {"datum": 227, "axis": null}}}
             ]},
            {"width": 874, "height": 461, "data": {"name": "lim"}, "transform": [{"filter": "datum.mx == 800"}],
             "resolve": {"axis": {"x": "independent", "y": "independent"}},
             "layer": [
               {"transform": [{"filter": "isValid(datum.p2)"}], "mark": {"type": "area", "color": "#FDDE82"},
                "encoding": {"x": {"field": "my", "type": "quantitative", "scale": {"domain": [45, 660], "nice": false, "zero": false}, "axis": {"orient": "bottom", "values": [100,200,300,400,500,600], "format": "d", "tickSize": -19, "labelPadding": 26, "title": null}},
                             "y": {"field": "m2", "type": "quantitative", "scale": {"type": "log", "domain": [0.5, 1000], "nice": false}, "axis": {"orient": "left", "values": [1,10,100,1000], "tickSize": -21, "labels": false, "title": null}},
                             "y2": {"field": "p2"}}},
               {"transform": [{"filter": "isValid(datum.p1)"}], "mark": {"type": "area", "color": "#85CDF9"},
                "encoding": {"x": {"field": "my", "type": "quantitative", "axis": {"orient": "bottom", "values": [50,150,250,350,450,550,650], "tickSize": -10, "labels": false, "title": null}},
                             "y": {"field": "m1", "type": "quantitative", "axis": {"orient": "left", "values": [0.6,0.7,0.8,0.9,2,3,4,5,6,7,8,9,20,30,40,50,60,70,80,90,200,300,400,500,600,700,800,900], "tickSize": -11, "labels": false, "title": null}},
                             "y2": {"field": "p1"}}},
               {"transform": [{"filter": "isValid(datum.exp)"}], "mark": {"type": "line", "color": "black", "strokeWidth": 8, "strokeDash": [26, 28]},
                "encoding": {"x": {"field": "my", "type": "quantitative", "axis": {"orient": "top", "values": [100,200,300,400,500,600], "tickSize": -19, "labels": false, "title": null}},
                             "y": {"field": "exp", "type": "quantitative", "axis": {"orient": "right", "values": [1,10,100,1000], "tickSize": -21, "labels": false, "title": null}}}},
               {"transform": [{"filter": "isValid(datum.obs)"}], "mark": {"type": "line", "color": "#EE2211", "strokeWidth": 8},
                "encoding": {"x": {"field": "my", "type": "quantitative", "axis": {"orient": "top", "values": [50,150,250,350,450,550,650], "tickSize": -10, "labels": false, "title": null}},
                             "y": {"field": "obs", "type": "quantitative", "axis": {"orient": "right", "values": [0.6,0.7,0.8,0.9,2,3,4,5,6,7,8,9,20,30,40,50,60,70,80,90,200,300,400,500,600,700,800,900], "tickSize": -11, "labels": false, "title": null}}}},
               {"data": {"values": [{}]}, "mark": {"type": "text", "text": "m", "fontSize": 57, "align": "left", "baseline": "alphabetic"},
                "encoding": {"x": {"datum": 162, "axis": null}, "y": {"datum": 227, "axis": null}}},
               {"data": {"values": [{}]}, "mark": {"type": "text", "text": "X", "fontSize": 40, "align": "left", "baseline": "alphabetic", "dx": 47, "dy": 16},
                "encoding": {"x": {"datum": 162, "axis": null}, "y": {"datum": 227, "axis": null}}},
               {"data": {"values": [{}]}, "mark": {"type": "text", "text": "= 800 GeV", "fontSize": 57, "align": "left", "baseline": "alphabetic", "dx": 91},
                "encoding": {"x": {"datum": 162, "axis": null}, "y": {"datum": 227, "axis": null}}}
             ]},
            {"width": 874, "height": 461, "data": {"name": "lim"}, "transform": [{"filter": "datum.mx == 900"}],
             "resolve": {"axis": {"x": "independent", "y": "independent"}},
             "layer": [
               {"transform": [{"filter": "isValid(datum.p2)"}], "mark": {"type": "area", "color": "#FDDE82"},
                "encoding": {"x": {"field": "my", "type": "quantitative", "scale": {"domain": [47, 770], "nice": false, "zero": false}, "axis": {"orient": "bottom", "values": [100,200,300,400,500,600,700], "format": "d", "tickSize": -19, "labelPadding": 26, "title": null}},
                             "y": {"field": "m2", "type": "quantitative", "scale": {"type": "log", "domain": [0.5, 1000], "nice": false}, "axis": {"orient": "left", "values": [1,10,100,1000], "tickSize": -21, "labelPadding": 30, "labelExpr": "datum.value >= 1000 ? '10\u00b3' : datum.value >= 100 ? '10\u00b2' : datum.value >= 10 ? '10' : '1'", "title": null}},
                             "y2": {"field": "p2"}}},
               {"transform": [{"filter": "isValid(datum.p1)"}], "mark": {"type": "area", "color": "#85CDF9"},
                "encoding": {"x": {"field": "my", "type": "quantitative", "axis": {"orient": "bottom", "values": [50,150,250,350,450,550,650,750], "tickSize": -10, "labels": false, "title": null}},
                             "y": {"field": "m1", "type": "quantitative", "axis": {"orient": "left", "values": [0.6,0.7,0.8,0.9,2,3,4,5,6,7,8,9,20,30,40,50,60,70,80,90,200,300,400,500,600,700,800,900], "tickSize": -11, "labels": false, "title": null}},
                             "y2": {"field": "p1"}}},
               {"transform": [{"filter": "isValid(datum.exp)"}], "mark": {"type": "line", "color": "black", "strokeWidth": 8, "strokeDash": [26, 28]},
                "encoding": {"x": {"field": "my", "type": "quantitative", "axis": {"orient": "top", "values": [100,200,300,400,500,600,700], "tickSize": -19, "labels": false, "title": null}},
                             "y": {"field": "exp", "type": "quantitative", "axis": {"orient": "right", "values": [1,10,100,1000], "tickSize": -21, "labels": false, "title": null}}}},
               {"transform": [{"filter": "isValid(datum.obs)"}], "mark": {"type": "line", "color": "#EE2211", "strokeWidth": 8},
                "encoding": {"x": {"field": "my", "type": "quantitative", "axis": {"orient": "top", "values": [50,150,250,350,450,550,650,750], "tickSize": -10, "labels": false, "title": null}},
                             "y": {"field": "obs", "type": "quantitative", "axis": {"orient": "right", "values": [0.6,0.7,0.8,0.9,2,3,4,5,6,7,8,9,20,30,40,50,60,70,80,90,200,300,400,500,600,700,800,900], "tickSize": -11, "labels": false, "title": null}}}},
               {"data": {"values": [{}]}, "mark": {"type": "text", "text": "m", "fontSize": 57, "align": "left", "baseline": "alphabetic"},
                "encoding": {"x": {"datum": 184, "axis": null}, "y": {"datum": 227, "axis": null}}},
               {"data": {"values": [{}]}, "mark": {"type": "text", "text": "X", "fontSize": 40, "align": "left", "baseline": "alphabetic", "dx": 47, "dy": 16},
                "encoding": {"x": {"datum": 184, "axis": null}, "y": {"datum": 227, "axis": null}}},
               {"data": {"values": [{}]}, "mark": {"type": "text", "text": "= 900 GeV", "fontSize": 57, "align": "left", "baseline": "alphabetic", "dx": 91},
                "encoding": {"x": {"datum": 184, "axis": null}, "y": {"datum": 227, "axis": null}}}
             ]},
            {"width": 874, "height": 461, "data": {"name": "lim"}, "transform": [{"filter": "datum.mx == 1000"}],
             "resolve": {"axis": {"x": "independent", "y": "independent"}},
             "layer": [
               {"transform": [{"filter": "isValid(datum.p2)"}], "mark": {"type": "area", "color": "#FDDE82"},
                "encoding": {"x": {"field": "my", "type": "quantitative", "scale": {"domain": [44, 880], "nice": false, "zero": false}, "axis": {"orient": "bottom", "values": [100,200,300,400,500,600,700,800], "format": "d", "tickSize": -19, "labelPadding": 26, "title": null}},
                             "y": {"field": "m2", "type": "quantitative", "scale": {"type": "log", "domain": [0.5, 1000], "nice": false}, "axis": {"orient": "left", "values": [1,10,100,1000], "tickSize": -21, "labels": false, "title": null}},
                             "y2": {"field": "p2"}}},
               {"transform": [{"filter": "isValid(datum.p1)"}], "mark": {"type": "area", "color": "#85CDF9"},
                "encoding": {"x": {"field": "my", "type": "quantitative", "axis": {"orient": "bottom", "values": [50,150,250,350,450,550,650,750,850], "tickSize": -10, "labels": false, "title": null}},
                             "y": {"field": "m1", "type": "quantitative", "axis": {"orient": "left", "values": [0.6,0.7,0.8,0.9,2,3,4,5,6,7,8,9,20,30,40,50,60,70,80,90,200,300,400,500,600,700,800,900], "tickSize": -11, "labels": false, "title": null}},
                             "y2": {"field": "p1"}}},
               {"transform": [{"filter": "isValid(datum.exp)"}], "mark": {"type": "line", "color": "black", "strokeWidth": 8, "strokeDash": [26, 28]},
                "encoding": {"x": {"field": "my", "type": "quantitative", "axis": {"orient": "top", "values": [100,200,300,400,500,600,700,800], "tickSize": -19, "labels": false, "title": null}},
                             "y": {"field": "exp", "type": "quantitative", "axis": {"orient": "right", "values": [1,10,100,1000], "tickSize": -21, "labels": false, "title": null}}}},
               {"transform": [{"filter": "isValid(datum.obs)"}], "mark": {"type": "line", "color": "#EE2211", "strokeWidth": 8},
                "encoding": {"x": {"field": "my", "type": "quantitative", "axis": {"orient": "top", "values": [50,150,250,350,450,550,650,750,850], "tickSize": -10, "labels": false, "title": null}},
                             "y": {"field": "obs", "type": "quantitative", "axis": {"orient": "right", "values": [0.6,0.7,0.8,0.9,2,3,4,5,6,7,8,9,20,30,40,50,60,70,80,90,200,300,400,500,600,700,800,900], "tickSize": -11, "labels": false, "title": null}}}},
               {"data": {"values": [{}]}, "mark": {"type": "text", "text": "m", "fontSize": 57, "align": "left", "baseline": "alphabetic"},
                "encoding": {"x": {"datum": 203, "axis": null}, "y": {"datum": 227, "axis": null}}},
               {"data": {"values": [{}]}, "mark": {"type": "text", "text": "X", "fontSize": 40, "align": "left", "baseline": "alphabetic", "dx": 47, "dy": 16},
                "encoding": {"x": {"datum": 203, "axis": null}, "y": {"datum": 227, "axis": null}}},
               {"data": {"values": [{}]}, "mark": {"type": "text", "text": "= 1000 GeV", "fontSize": 57, "align": "left", "baseline": "alphabetic", "dx": 91},
                "encoding": {"x": {"datum": 203, "axis": null}, "y": {"datum": 227, "axis": null}}}
             ]},
            {"width": 874, "height": 461, "data": {"name": "lim"}, "transform": [{"filter": "datum.mx == 1100"}],
             "resolve": {"axis": {"x": "independent", "y": "independent"}},
             "layer": [
               {"transform": [{"filter": "isValid(datum.p2)"}], "mark": {"type": "area", "color": "#FDDE82"},
                "encoding": {"x": {"field": "my", "type": "quantitative", "scale": {"domain": [47, 990], "nice": false, "zero": false}, "axis": {"orient": "bottom", "values": [100,200,300,400,500,600,700,800,900], "format": "d", "tickSize": -19, "labelPadding": 26, "title": null}},
                             "y": {"field": "m2", "type": "quantitative", "scale": {"type": "log", "domain": [0.5, 1000], "nice": false}, "axis": {"orient": "left", "values": [1,10,100,1000], "tickSize": -21, "labels": false, "title": null}},
                             "y2": {"field": "p2"}}},
               {"transform": [{"filter": "isValid(datum.p1)"}], "mark": {"type": "area", "color": "#85CDF9"},
                "encoding": {"x": {"field": "my", "type": "quantitative", "axis": {"orient": "bottom", "values": [50,150,250,350,450,550,650,750,850,950], "tickSize": -10, "labels": false, "title": null}},
                             "y": {"field": "m1", "type": "quantitative", "axis": {"orient": "left", "values": [0.6,0.7,0.8,0.9,2,3,4,5,6,7,8,9,20,30,40,50,60,70,80,90,200,300,400,500,600,700,800,900], "tickSize": -11, "labels": false, "title": null}},
                             "y2": {"field": "p1"}}},
               {"transform": [{"filter": "isValid(datum.exp)"}], "mark": {"type": "line", "color": "black", "strokeWidth": 8, "strokeDash": [26, 28]},
                "encoding": {"x": {"field": "my", "type": "quantitative", "axis": {"orient": "top", "values": [100,200,300,400,500,600,700,800,900], "tickSize": -19, "labels": false, "title": null}},
                             "y": {"field": "exp", "type": "quantitative", "axis": {"orient": "right", "values": [1,10,100,1000], "tickSize": -21, "labels": false, "title": null}}}},
               {"transform": [{"filter": "isValid(datum.obs)"}], "mark": {"type": "line", "color": "#EE2211", "strokeWidth": 8},
                "encoding": {"x": {"field": "my", "type": "quantitative", "axis": {"orient": "top", "values": [50,150,250,350,450,550,650,750,850,950], "tickSize": -10, "labels": false, "title": null}},
                             "y": {"field": "obs", "type": "quantitative", "axis": {"orient": "right", "values": [0.6,0.7,0.8,0.9,2,3,4,5,6,7,8,9,20,30,40,50,60,70,80,90,200,300,400,500,600,700,800,900], "tickSize": -11, "labels": false, "title": null}}}},
               {"data": {"values": [{}]}, "mark": {"type": "text", "text": "m", "fontSize": 57, "align": "left", "baseline": "alphabetic"},
                "encoding": {"x": {"datum": 226, "axis": null}, "y": {"datum": 227, "axis": null}}},
               {"data": {"values": [{}]}, "mark": {"type": "text", "text": "X", "fontSize": 40, "align": "left", "baseline": "alphabetic", "dx": 47, "dy": 16},
                "encoding": {"x": {"datum": 226, "axis": null}, "y": {"datum": 227, "axis": null}}},
               {"data": {"values": [{}]}, "mark": {"type": "text", "text": "= 1100 GeV", "fontSize": 57, "align": "left", "baseline": "alphabetic", "dx": 91},
                "encoding": {"x": {"datum": 226, "axis": null}, "y": {"datum": 227, "axis": null}}}
             ]},
            {"width": 874, "height": 461, "data": {"name": "lim"}, "transform": [{"filter": "datum.mx == 1200"}],
             "resolve": {"axis": {"x": "independent", "y": "independent"}},
             "layer": [
               {"transform": [{"filter": "isValid(datum.p2)"}], "mark": {"type": "area", "color": "#FDDE82"},
                "encoding": {"x": {"field": "my", "type": "quantitative", "scale": {"domain": [45, 1100], "nice": false, "zero": false}, "axis": {"orient": "bottom", "values": [200,400,600,800,1000], "format": "d", "tickSize": -19, "labelPadding": 26, "title": null}},
                             "y": {"field": "m2", "type": "quantitative", "scale": {"type": "log", "domain": [0.5, 1000], "nice": false}, "axis": {"orient": "left", "values": [1,10,100,1000], "tickSize": -21, "labelPadding": 30, "labelExpr": "datum.value >= 1000 ? '10\u00b3' : datum.value >= 100 ? '10\u00b2' : datum.value >= 10 ? '10' : '1'", "title": null}},
                             "y2": {"field": "p2"}}},
               {"transform": [{"filter": "isValid(datum.p1)"}], "mark": {"type": "area", "color": "#85CDF9"},
                "encoding": {"x": {"field": "my", "type": "quantitative", "axis": {"orient": "bottom", "values": [100,300,500,700,900], "tickSize": -10, "labels": false, "title": null}},
                             "y": {"field": "m1", "type": "quantitative", "axis": {"orient": "left", "values": [0.6,0.7,0.8,0.9,2,3,4,5,6,7,8,9,20,30,40,50,60,70,80,90,200,300,400,500,600,700,800,900], "tickSize": -11, "labels": false, "title": null}},
                             "y2": {"field": "p1"}}},
               {"transform": [{"filter": "isValid(datum.exp)"}], "mark": {"type": "line", "color": "black", "strokeWidth": 8, "strokeDash": [26, 28]},
                "encoding": {"x": {"field": "my", "type": "quantitative", "axis": {"orient": "top", "values": [200,400,600,800,1000], "tickSize": -19, "labels": false, "title": null}},
                             "y": {"field": "exp", "type": "quantitative", "axis": {"orient": "right", "values": [1,10,100,1000], "tickSize": -21, "labels": false, "title": null}}}},
               {"transform": [{"filter": "isValid(datum.obs)"}], "mark": {"type": "line", "color": "#EE2211", "strokeWidth": 8},
                "encoding": {"x": {"field": "my", "type": "quantitative", "axis": {"orient": "top", "values": [100,300,500,700,900], "tickSize": -10, "labels": false, "title": null}},
                             "y": {"field": "obs", "type": "quantitative", "axis": {"orient": "right", "values": [0.6,0.7,0.8,0.9,2,3,4,5,6,7,8,9,20,30,40,50,60,70,80,90,200,300,400,500,600,700,800,900], "tickSize": -11, "labels": false, "title": null}}}},
               {"data": {"values": [{}]}, "mark": {"type": "text", "text": "m", "fontSize": 57, "align": "left", "baseline": "alphabetic"},
                "encoding": {"x": {"datum": 246, "axis": null}, "y": {"datum": 227, "axis": null}}},
               {"data": {"values": [{}]}, "mark": {"type": "text", "text": "X", "fontSize": 40, "align": "left", "baseline": "alphabetic", "dx": 47, "dy": 16},
                "encoding": {"x": {"datum": 246, "axis": null}, "y": {"datum": 227, "axis": null}}},
               {"data": {"values": [{}]}, "mark": {"type": "text", "text": "= 1200 GeV", "fontSize": 57, "align": "left", "baseline": "alphabetic", "dx": 91},
                "encoding": {"x": {"datum": 246, "axis": null}, "y": {"datum": 227, "axis": null}}}
             ]},
            {"width": 874, "height": 461, "data": {"name": "lim"}, "transform": [{"filter": "datum.mx == 1400"}],
             "resolve": {"axis": {"x": "independent", "y": "independent"}},
             "layer": [
               {"transform": [{"filter": "isValid(datum.p2)"}], "mark": {"type": "area", "color": "#FDDE82"},
                "encoding": {"x": {"field": "my", "type": "quantitative", "scale": {"domain": [38, 1320], "nice": false, "zero": false}, "axis": {"orient": "bottom", "values": [200,400,600,800,1000,1200], "format": "d", "tickSize": -19, "labelPadding": 26, "title": null}},
                             "y": {"field": "m2", "type": "quantitative", "scale": {"type": "log", "domain": [0.5, 1000], "nice": false}, "axis": {"orient": "left", "values": [1,10,100,1000], "tickSize": -21, "labels": false, "title": null}},
                             "y2": {"field": "p2"}}},
               {"transform": [{"filter": "isValid(datum.p1)"}], "mark": {"type": "area", "color": "#85CDF9"},
                "encoding": {"x": {"field": "my", "type": "quantitative", "axis": {"orient": "bottom", "values": [100,300,500,700,900,1100,1300], "tickSize": -10, "labels": false, "title": null}},
                             "y": {"field": "m1", "type": "quantitative", "axis": {"orient": "left", "values": [0.6,0.7,0.8,0.9,2,3,4,5,6,7,8,9,20,30,40,50,60,70,80,90,200,300,400,500,600,700,800,900], "tickSize": -11, "labels": false, "title": null}},
                             "y2": {"field": "p1"}}},
               {"transform": [{"filter": "isValid(datum.exp)"}], "mark": {"type": "line", "color": "black", "strokeWidth": 8, "strokeDash": [26, 28]},
                "encoding": {"x": {"field": "my", "type": "quantitative", "axis": {"orient": "top", "values": [200,400,600,800,1000,1200], "tickSize": -19, "labels": false, "title": null}},
                             "y": {"field": "exp", "type": "quantitative", "axis": {"orient": "right", "values": [1,10,100,1000], "tickSize": -21, "labels": false, "title": null}}}},
               {"transform": [{"filter": "isValid(datum.obs)"}], "mark": {"type": "line", "color": "#EE2211", "strokeWidth": 8},
                "encoding": {"x": {"field": "my", "type": "quantitative", "axis": {"orient": "top", "values": [100,300,500,700,900,1100,1300], "tickSize": -10, "labels": false, "title": null}},
                             "y": {"field": "obs", "type": "quantitative", "axis": {"orient": "right", "values": [0.6,0.7,0.8,0.9,2,3,4,5,6,7,8,9,20,30,40,50,60,70,80,90,200,300,400,500,600,700,800,900], "tickSize": -11, "labels": false, "title": null}}}},
               {"data": {"values": [{}]}, "mark": {"type": "text", "text": "m", "fontSize": 57, "align": "left", "baseline": "alphabetic"},
                "encoding": {"x": {"datum": 282, "axis": null}, "y": {"datum": 227, "axis": null}}},
               {"data": {"values": [{}]}, "mark": {"type": "text", "text": "X", "fontSize": 40, "align": "left", "baseline": "alphabetic", "dx": 47, "dy": 16},
                "encoding": {"x": {"datum": 282, "axis": null}, "y": {"datum": 227, "axis": null}}},
               {"data": {"values": [{}]}, "mark": {"type": "text", "text": "= 1400 GeV", "fontSize": 57, "align": "left", "baseline": "alphabetic", "dx": 91},
                "encoding": {"x": {"datum": 282, "axis": null}, "y": {"datum": 227, "axis": null}}}
             ]},
            {"width": 874, "height": 461, "data": {"name": "lim"}, "transform": [{"filter": "datum.mx == 1600"}],
             "resolve": {"axis": {"x": "independent", "y": "independent"}},
             "layer": [
               {"transform": [{"filter": "isValid(datum.p2)"}], "mark": {"type": "area", "color": "#FDDE82"},
                "encoding": {"x": {"field": "my", "type": "quantitative", "scale": {"domain": [67, 1540], "nice": false, "zero": false}, "axis": {"orient": "bottom", "values": [200,400,600,800,1000,1200,1400], "format": "d", "tickSize": -19, "labelPadding": 26, "title": null}},
                             "y": {"field": "m2", "type": "quantitative", "scale": {"type": "log", "domain": [0.5, 1000], "nice": false}, "axis": {"orient": "left", "values": [1,10,100,1000], "tickSize": -21, "labels": false, "title": null}},
                             "y2": {"field": "p2"}}},
               {"transform": [{"filter": "isValid(datum.p1)"}], "mark": {"type": "area", "color": "#85CDF9"},
                "encoding": {"x": {"field": "my", "type": "quantitative", "axis": {"orient": "bottom", "values": [100,300,500,700,900,1100,1300,1500], "tickSize": -10, "labels": false, "title": null}},
                             "y": {"field": "m1", "type": "quantitative", "axis": {"orient": "left", "values": [0.6,0.7,0.8,0.9,2,3,4,5,6,7,8,9,20,30,40,50,60,70,80,90,200,300,400,500,600,700,800,900], "tickSize": -11, "labels": false, "title": null}},
                             "y2": {"field": "p1"}}},
               {"transform": [{"filter": "isValid(datum.exp)"}], "mark": {"type": "line", "color": "black", "strokeWidth": 8, "strokeDash": [26, 28]},
                "encoding": {"x": {"field": "my", "type": "quantitative", "axis": {"orient": "top", "values": [200,400,600,800,1000,1200,1400], "tickSize": -19, "labels": false, "title": null}},
                             "y": {"field": "exp", "type": "quantitative", "axis": {"orient": "right", "values": [1,10,100,1000], "tickSize": -21, "labels": false, "title": null}}}},
               {"transform": [{"filter": "isValid(datum.obs)"}], "mark": {"type": "line", "color": "#EE2211", "strokeWidth": 8},
                "encoding": {"x": {"field": "my", "type": "quantitative", "axis": {"orient": "top", "values": [100,300,500,700,900,1100,1300,1500], "tickSize": -10, "labels": false, "title": null}},
                             "y": {"field": "obs", "type": "quantitative", "axis": {"orient": "right", "values": [0.6,0.7,0.8,0.9,2,3,4,5,6,7,8,9,20,30,40,50,60,70,80,90,200,300,400,500,600,700,800,900], "tickSize": -11, "labels": false, "title": null}}}},
               {"data": {"values": [{}]}, "mark": {"type": "text", "text": "m", "fontSize": 57, "align": "left", "baseline": "alphabetic"},
                "encoding": {"x": {"datum": 347, "axis": null}, "y": {"datum": 227, "axis": null}}},
               {"data": {"values": [{}]}, "mark": {"type": "text", "text": "X", "fontSize": 40, "align": "left", "baseline": "alphabetic", "dx": 47, "dy": 16},
                "encoding": {"x": {"datum": 347, "axis": null}, "y": {"datum": 227, "axis": null}}},
               {"data": {"values": [{}]}, "mark": {"type": "text", "text": "= 1600 GeV", "fontSize": 57, "align": "left", "baseline": "alphabetic", "dx": 91},
                "encoding": {"x": {"datum": 347, "axis": null}, "y": {"datum": 227, "axis": null}}}
             ]}
          ]
        }
      ]
    },
    {
      "width": 3151, "height": 499,
      "view": {"stroke": null},
      "data": {"values": [{}]},
      "layer": [
        {"mark": {"type": "rule", "strokeWidth": 6, "color": "black"},
         "encoding": {"x": {"datum": 352, "scale": {"domain": [0, 3151], "nice": false, "zero": false}, "axis": null},
                      "x2": {"datum": 3045},
                      "y": {"datum": 2628, "scale": {"domain": [3057, 2558], "nice": false, "zero": false}, "axis": null}}},
        {"mark": {"type": "point", "shape": "M1,0L-1,-1L-1,1Z", "size": 3600, "filled": true, "color": "black", "opacity": 1, "strokeWidth": 0},
         "encoding": {"x": {"datum": 3040, "axis": null}, "y": {"datum": 2628, "axis": null}}},
        {"mark": {"type": "text", "text": "m", "fontSize": 70, "align": "left", "baseline": "alphabetic"},
         "encoding": {"x": {"datum": 2693, "axis": null}, "y": {"datum": 2729, "axis": null}}},
        {"mark": {"type": "text", "text": "Y", "fontSize": 42, "align": "left", "baseline": "alphabetic", "dx": 57, "dy": 14},
         "encoding": {"x": {"datum": 2693, "axis": null}, "y": {"datum": 2729, "axis": null}}},
        {"mark": {"type": "text", "text": "[GeV]", "fontSize": 70, "align": "left", "baseline": "alphabetic"},
         "encoding": {"x": {"datum": 2793, "axis": null}, "y": {"datum": 2729, "axis": null}}},
        {"mark": {"type": "rect", "color": "#85CDF9"},
         "encoding": {"x": {"datum": 368, "axis": null}, "x2": {"datum": 604}, "y": {"datum": 2772, "axis": null}, "y2": {"datum": 2867}}},
        {"mark": {"type": "rect", "color": "#FDDE82"},
         "encoding": {"x": {"datum": 1717, "axis": null}, "x2": {"datum": 1953}, "y": {"datum": 2772, "axis": null}, "y2": {"datum": 2867}}},
        {"mark": {"type": "rule", "strokeWidth": 6, "color": "black", "strokeDash": [28, 22]},
         "encoding": {"x": {"datum": 368, "axis": null}, "x2": {"datum": 604}, "y": {"datum": 2960, "axis": null}}},
        {"mark": {"type": "rule", "strokeWidth": 6, "color": "#EE2211"},
         "encoding": {"x": {"datum": 1717, "axis": null}, "x2": {"datum": 1953}, "y": {"datum": 2960, "axis": null}}},
        {"mark": {"type": "text", "text": "68% expected", "fontSize": 79, "align": "left", "baseline": "middle"},
         "encoding": {"x": {"datum": 654, "axis": null}, "y": {"datum": 2820, "axis": null}}},
        {"mark": {"type": "text", "text": "95% expected", "fontSize": 79, "align": "left", "baseline": "middle"},
         "encoding": {"x": {"datum": 2003, "axis": null}, "y": {"datum": 2820, "axis": null}}},
        {"mark": {"type": "text", "text": "Expected 95% CL upper limit", "fontSize": 79, "align": "left", "baseline": "middle"},
         "encoding": {"x": {"datum": 654, "axis": null}, "y": {"datum": 2960, "axis": null}}},
        {"mark": {"type": "text", "text": "Observed 95% CL upper limit", "fontSize": 79, "align": "left", "baseline": "middle"},
         "encoding": {"x": {"datum": 2003, "axis": null}, "y": {"datum": 2960, "axis": null}}}
      ]
    }
  ]
}
